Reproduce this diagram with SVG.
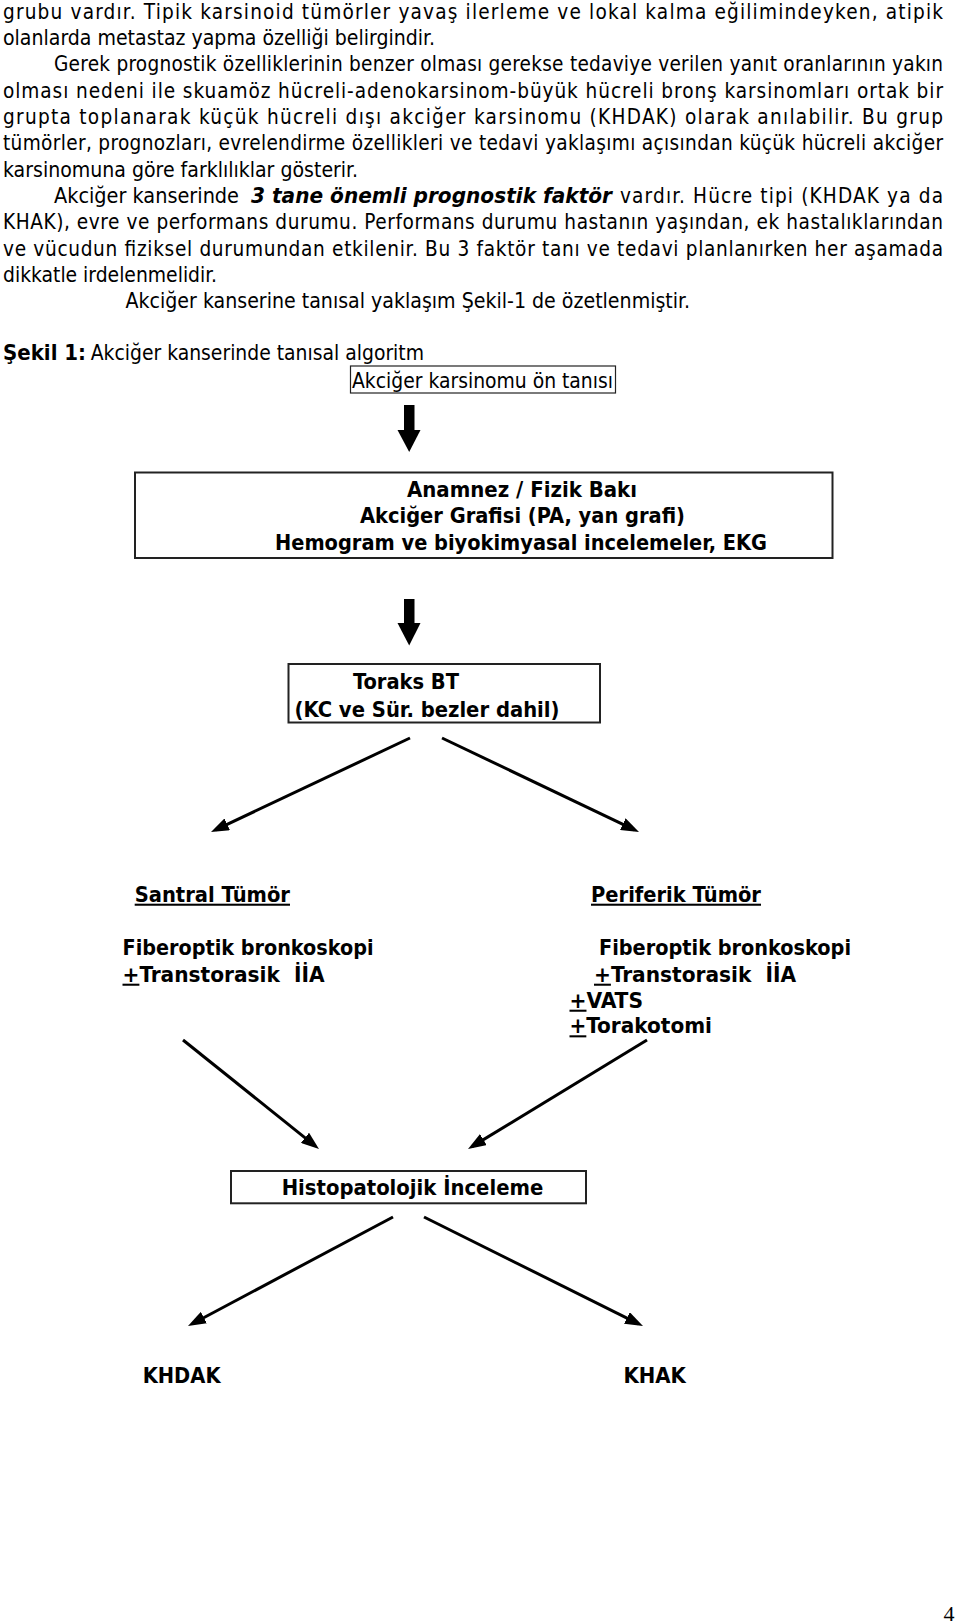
<svg xmlns="http://www.w3.org/2000/svg" width="960" height="1624" viewBox="0 0 960 1624">
<style>
.t{font-family:"DejaVu Sans Condensed","DejaVu Sans",sans-serif;font-stretch:condensed;font-size:20.6px;fill:#000}
.b{font-weight:bold}
.bi{font-weight:bold;font-style:italic}
.u{text-decoration:underline}
.box{fill:#fff;stroke:#222;stroke-width:2}
.thin{stroke-width:1.2}
.con{stroke:#000;stroke-width:3;fill:none}
.blk{fill:#000}
.pg{font-family:"Liberation Serif",serif;font-size:22px;fill:#000}
</style>
<defs>
<marker id="ah" markerUnits="userSpaceOnUse" markerWidth="18" markerHeight="13" viewBox="0 0 18 13" refX="13" refY="6.5" orient="auto"><path d="M0,0 L18,6.5 L0,13 z" fill="#000"/></marker>
</defs>

<g id="body-text">
<text class="t" x="3" y="18.5" textLength="940" lengthAdjust="spacing">grubu vardır. Tipik karsinoid tümörler yavaş ilerleme ve lokal kalma eğilimindeyken, atipik</text>
<text class="t" x="3" y="44.8" textLength="432" lengthAdjust="spacingAndGlyphs">olanlarda metastaz yapma özelliği belirgindir.</text>
<text class="t" x="54" y="71.2" textLength="889" lengthAdjust="spacing">Gerek prognostik özelliklerinin benzer olması gerekse tedaviye verilen yanıt oranlarının yakın</text>
<text class="t" x="3" y="97.5" textLength="940" lengthAdjust="spacing">olması nedeni ile skuamöz hücreli-adenokarsinom-büyük hücreli bronş karsinomları ortak bir</text>
<text class="t" x="3" y="123.9" textLength="940" lengthAdjust="spacing">grupta toplanarak küçük hücreli dışı akciğer karsinomu (KHDAK) olarak anılabilir. Bu grup</text>
<text class="t" x="3" y="150.2" textLength="940" lengthAdjust="spacing">tümörler, prognozları, evrelendirme özellikleri ve tedavi yaklaşımı açısından küçük hücreli akciğer</text>
<text class="t" x="3" y="176.6" textLength="355" lengthAdjust="spacingAndGlyphs">karsinomuna göre farklılıklar gösterir.</text>
<text class="t" x="54" y="202.9" textLength="185" lengthAdjust="spacingAndGlyphs">Akciğer kanserinde</text>
<text class="t bi" x="251" y="202.9" textLength="361" lengthAdjust="spacingAndGlyphs">3 tane önemli prognostik faktör</text>
<text class="t" x="620" y="202.9" textLength="323" lengthAdjust="spacing">vardır. Hücre tipi (KHDAK ya da</text>
<text class="t" x="3" y="229.3" textLength="940" lengthAdjust="spacing">KHAK), evre ve performans durumu. Performans durumu hastanın yaşından, ek hastalıklarından</text>
<text class="t" x="3" y="255.6" textLength="940" lengthAdjust="spacing">ve vücudun fiziksel durumundan etkilenir. Bu 3 faktör tanı ve tedavi planlanırken her aşamada</text>
<text class="t" x="3" y="282" textLength="214" lengthAdjust="spacingAndGlyphs">dikkatle irdelenmelidir.</text>
<text class="t" x="125.5" y="308.3" textLength="564.5" lengthAdjust="spacingAndGlyphs">Akciğer kanserine tanısal yaklaşım Şekil-1 de özetlenmiştir.</text>
<text class="t b" x="3" y="360" textLength="83" lengthAdjust="spacingAndGlyphs">Şekil 1:</text>
<text class="t" x="90.7" y="360" textLength="333.3" lengthAdjust="spacingAndGlyphs">Akciğer kanserinde tanısal algoritm</text>
</g>

<g id="connectors">
<rect class="blk" x="404" y="405" width="10.5" height="26"/>
<polygon class="blk" points="397.5,430 420.5,430 409.2,452"/>
<rect class="blk" x="404" y="599" width="10.5" height="25"/>
<polygon class="blk" points="397.5,623 420.5,623 409.2,645.5"/>
<line class="con" x1="410" y1="738" x2="215.5" y2="829.9" marker-end="url(#ah)"/>
<line class="con" x1="442" y1="738" x2="634.5" y2="829.8" marker-end="url(#ah)"/>
<line class="con" x1="183" y1="1040" x2="315.1" y2="1145.9" marker-end="url(#ah)"/>
<line class="con" x1="647" y1="1040" x2="472.3" y2="1146.4" marker-end="url(#ah)"/>
<line class="con" x1="393" y1="1217" x2="192.4" y2="1323.7" marker-end="url(#ah)"/>
<line class="con" x1="424" y1="1217" x2="638.5" y2="1323.8" marker-end="url(#ah)"/>
</g>

<g id="node-on-tani">
<rect class="box thin" x="350.5" y="366" width="265" height="27"/>
<text class="t" x="352" y="388" textLength="261" lengthAdjust="spacingAndGlyphs">Akciğer karsinomu ön tanısı</text>
</g>

<g id="node-anamnez">
<rect class="box" x="135" y="472.5" width="697.5" height="85.5"/>
<text class="t b" x="407" y="496.7" textLength="230" lengthAdjust="spacingAndGlyphs">Anamnez / Fizik Bakı</text>
<text class="t b" x="360" y="523.3" textLength="325" lengthAdjust="spacingAndGlyphs">Akciğer Grafisi (PA, yan grafi)</text>
<text class="t b" x="275" y="550" textLength="492" lengthAdjust="spacingAndGlyphs">Hemogram ve biyokimyasal incelemeler, EKG</text>
</g>

<g id="node-toraks-bt">
<rect class="box" x="288.5" y="664" width="311.5" height="58.5"/>
<text class="t b" x="353" y="689" textLength="106" lengthAdjust="spacingAndGlyphs">Toraks BT</text>
<text class="t b" x="294.5" y="716.5" textLength="265" lengthAdjust="spacingAndGlyphs">(KC ve Sür. bezler dahil)</text>
</g>

<g id="node-santral">
<text class="t b u" x="134.7" y="901.7" textLength="155.3" lengthAdjust="spacingAndGlyphs">Santral Tümör</text>
<text class="t b" x="122.5" y="955" textLength="251" lengthAdjust="spacingAndGlyphs">Fiberoptik bronkoskopi</text>
<text class="t b" x="122.5" y="981.7" xml:space="preserve" textLength="202" lengthAdjust="spacingAndGlyphs"><tspan class="u">+</tspan>Transtorasik  İİA</text>
</g>

<g id="node-periferik">
<text class="t b u" x="591" y="901.7" textLength="170" lengthAdjust="spacingAndGlyphs">Periferik Tümör</text>
<text class="t b" x="599" y="955" textLength="252" lengthAdjust="spacingAndGlyphs">Fiberoptik bronkoskopi</text>
<text class="t b" x="594" y="981.7" xml:space="preserve" textLength="202" lengthAdjust="spacingAndGlyphs"><tspan class="u">+</tspan>Transtorasik  İİA</text>
<text class="t b" x="569.5" y="1007.7" textLength="73.5" lengthAdjust="spacingAndGlyphs"><tspan class="u">+</tspan>VATS</text>
<text class="t b" x="569.5" y="1033.3" textLength="142.5" lengthAdjust="spacingAndGlyphs"><tspan class="u">+</tspan>Torakotomi</text>
</g>

<g id="node-histopatoloji">
<rect class="box" x="231" y="1171" width="355" height="32.3"/>
<text class="t b" x="281.7" y="1195" textLength="261.6" lengthAdjust="spacingAndGlyphs">Histopatolojik İnceleme</text>
</g>

<g id="node-khdak">
<text class="t b" x="142.7" y="1382.7" textLength="77.8" lengthAdjust="spacingAndGlyphs">KHDAK</text>
</g>

<g id="node-khak">
<text class="t b" x="623.4" y="1382.7" textLength="62.4" lengthAdjust="spacingAndGlyphs">KHAK</text>
</g>

<text class="pg" x="943.5" y="1620.5">4</text>
</svg>
